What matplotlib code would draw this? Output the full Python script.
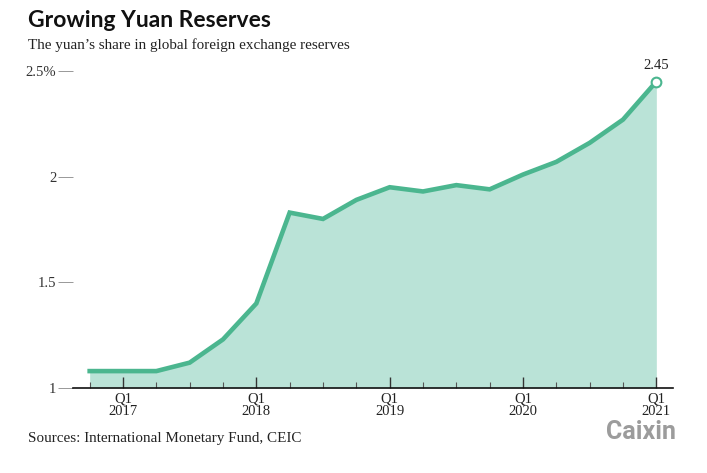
import matplotlib
matplotlib.use("Agg")
import matplotlib.pyplot as plt
from matplotlib.ticker import FixedLocator

quarters = ["Q4 2016", "Q1 2017", "Q2 2017", "Q3 2017", "Q4 2017",
            "Q1 2018", "Q2 2018", "Q3 2018", "Q4 2018",
            "Q1 2019", "Q2 2019", "Q3 2019", "Q4 2019",
            "Q1 2020", "Q2 2020", "Q3 2020", "Q4 2020", "Q1 2021"]
share = [1.08, 1.08, 1.08, 1.12, 1.23, 1.40, 1.83, 1.80, 1.89,
         1.95, 1.93, 1.96, 1.94, 2.01, 2.07, 2.16, 2.27, 2.45]
ytick_vals = [1, 1.5, 2, 2.5]
ytick_labels = ["1", "1.5", "2", "2.5%"]
xtick_labels = ["Q1\n2017", "Q1\n2018", "Q1\n2019", "Q1\n2020", "Q1\n2021"]

line_c = "#4bb68f"
fill_c = "#bae3d7"
serif = ["Liberation Serif", "DejaVu Serif"]

fig = plt.figure(figsize=(7.07, 4.73), dpi=100)
ax = fig.add_axes([73/707, 1-388/473, 600/707, 317/473])

x = list(range(len(share)))
ax.fill_between(x, 1, share, color=fill_c, lw=0, zorder=1)
ax.plot(x, share, color=line_c, lw=3.3, solid_joinstyle="miter", zorder=3)
ax.plot([x[-1]], [share[-1]], marker="o", ms=7, mfc="white", mec=line_c, mew=1.5,
        clip_on=False, zorder=4)
ax.annotate(f"{share[-1]:.2f}", (x[-1], share[-1]), xytext=(0, 7), textcoords="offset points",
            ha="center", va="bottom", fontsize=10.5, family=serif, color="#222222")

ax.set_xlim(-0.5, len(share) - 0.5)
ax.set_ylim(1, 2.5)

for s in ["top", "right", "left"]:
    ax.spines[s].set_visible(False)
ax.spines["bottom"].set_color("#111111")
ax.spines["bottom"].set_linewidth(1.2)

major_pos = [i for i, q in enumerate(quarters) if q.startswith("Q1")]
ax.xaxis.set_major_locator(FixedLocator(major_pos))
ax.set_xticklabels(xtick_labels)
ax.xaxis.set_minor_locator(FixedLocator([i for i in x if i not in major_pos]))
ax.tick_params(axis="x", which="major", direction="in", length=8, width=1, color="#333333",
               labelsize=10.5, pad=3)
ax.tick_params(axis="x", which="minor", direction="in", length=4, width=0.8, color="#555555")
for lab in ax.get_xticklabels():
    lab.set_family(serif)
    lab.set_linespacing(1.0)
    lab.set_color("#222222")

ax.set_yticks(ytick_vals)
ax.set_yticklabels(ytick_labels)
ax.tick_params(axis="y", which="major", direction="out", length=11, width=0.6, color="#888888",
               labelsize=10.5, pad=1)
for lab in ax.get_yticklabels():
    lab.set_family(serif)
    lab.set_color("#333333")

fig.text(28/707, 1-27/473, "Growing Yuan Reserves", fontsize=16.5, fontweight="bold",
         family=["Lato", "DejaVu Sans"], va="baseline", color="#111111")
fig.text(28/707, 1-49/473, "The yuan\u2019s share in global foreign exchange reserves",
         fontsize=10.9, family=serif, va="baseline", color="#222222")
fig.text(28/707, 1-442/473, "Sources: International Monetary Fund, CEIC",
         fontsize=10.9, family=serif, va="baseline", color="#222222")
fig.text(676/707, 1-439/473, "Caixin", fontsize=18, fontweight="bold",
         family=["Roboto", "DejaVu Sans"], ha="right", va="baseline", color="#9c9c9c")

fig.savefig("out.png", dpi=100)
